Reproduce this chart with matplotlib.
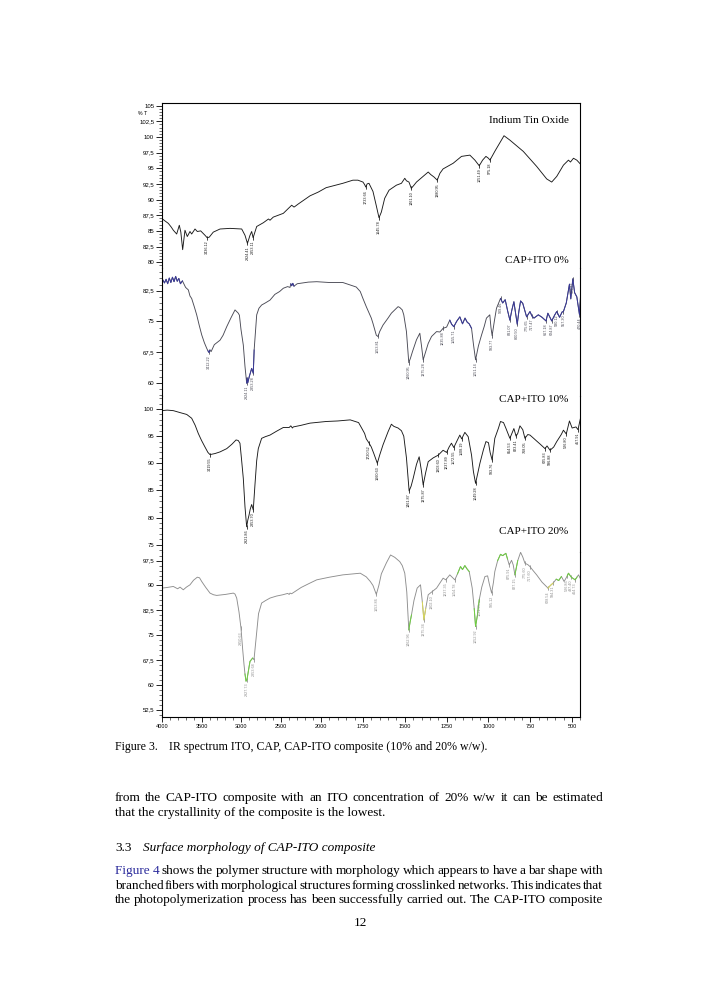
import numpy as np
import matplotlib
matplotlib.use("Agg")
import matplotlib.pyplot as plt
from matplotlib.ticker import FixedLocator, MultipleLocator, FuncFormatter

# ---- spectra (wavenumber cm-1, %T) ----
ITO_WN = [4000, 3960, 3917, 3880, 3854, 3812, 3779, 3760, 3737, 3708, 3679, 3645, 3624, 3582, 3553,
          3511, 3457, 3429, 3403, 3353, 3268, 3143, 2996, 2955, 2924, 2892, 2871, 2853, 2808, 2725,
          2660, 2641, 2600, 2474, 2369, 2340, 2328, 2286, 2139, 2035, 1970, 1870, 1810, 1780, 1750,
          1740, 1733, 1725, 1714, 1690, 1670, 1654, 1640, 1620, 1594, 1550, 1520, 1500, 1490, 1475,
          1461, 1445, 1430, 1360, 1345, 1325, 1306, 1290, 1271, 1211, 1161, 1111, 1081, 1055, 1035,
          1015, 1000, 991, 960, 907, 872, 792, 712, 652, 622, 592, 552, 522, 510, 492, 472, 448]
ITO_T = [87.0, 86.6, 86.2, 85.6, 85.1, 84.5, 85.9, 84.8, 82.0, 85.1, 84.1, 84.9, 84.5, 85.3, 84.9,
         85.0, 84.3, 83.9, 84.0, 84.8, 85.3, 85.4, 85.3, 84.3, 83.0, 84.3, 84.9, 83.9, 85.7, 86.3,
         86.9, 86.7, 87.2, 87.8, 89.1, 88.8, 88.9, 89.3, 90.6, 91.2, 91.9, 92.6, 93.1, 93.1, 92.8,
         92.4, 92.0, 92.5, 92.6, 91.3, 89.0, 87.1, 88.0, 90.2, 91.5, 92.3, 92.6, 93.4, 93.0, 92.8,
         91.8, 92.3, 92.8, 94.4, 94.0, 93.6, 93.1, 94.2, 94.9, 95.8, 96.9, 97.1, 96.3, 95.4, 96.3,
         96.9, 96.6, 96.3, 97.8, 100.2, 99.5, 97.7, 95.3, 93.3, 92.8, 93.7, 95.5, 96.3, 96.0, 96.6,
         96.3, 95.6]

CAP0_WN = [4000, 3985, 3965, 3945, 3925, 3905, 3885, 3865, 3845, 3825, 3805, 3785, 3765, 3740, 3700,
           3666, 3645, 3624, 3590, 3561, 3530, 3498, 3465, 3435, 3420, 3407, 3395, 3380, 3340, 3268,
           3230, 3184, 3130, 3080, 3060, 3039, 3025, 3005, 2976, 2955, 2934, 2928, 2920, 2901, 2871,
           2851, 2840, 2808, 2780, 2746, 2700, 2641, 2580, 2520, 2474, 2420, 2390, 2380, 2369, 2355,
           2340, 2300, 2265, 2160, 2055, 1950, 1870, 1826, 1790, 1766, 1750, 1730, 1700, 1690, 1670,
           1660, 1650, 1630, 1600, 1580, 1560, 1540, 1530, 1515, 1506, 1490, 1476, 1466, 1454, 1430,
           1410, 1400, 1390, 1375, 1360, 1340, 1310, 1290, 1271, 1250, 1231, 1220, 1207, 1190, 1171,
           1155, 1140, 1127, 1115, 1101, 1090, 1077, 1060, 1041, 1025, 1012, 992, 985, 978, 965,
           952, 928, 915, 900, 885, 872, 860, 848, 838, 828, 818, 808, 795, 772, 752,
           740, 728, 702, 680, 656, 645, 622, 605, 592, 575, 560, 552, 535, 516, 508,
           496, 485, 472, 456, 448]
CAP0_T = [85.5, 85.1, 84.4, 85.3, 84.2, 85.6, 84.5, 85.8, 84.7, 86.0, 84.8, 85.5, 84.2, 84.9, 83.3,
          82.7, 81.2, 80.6, 78.5, 76.6, 74.1, 71.7, 69.8, 68.4, 67.8, 67.4, 68.0, 67.6, 69.3, 70.4,
          71.6, 73.7, 75.9, 77.8, 77.4, 77.0, 76.5, 73.0, 69.2, 64.0, 59.9, 61.2, 60.0, 61.5, 63.5,
          62.3, 68.0, 76.6, 78.2, 79.0, 79.5, 80.2, 81.6, 82.3, 83.1, 83.5, 83.3, 84.2, 83.7, 84.3,
          83.6, 84.2, 84.3, 84.6, 84.7, 84.5, 84.5, 83.9, 83.4, 82.3, 80.6, 78.6, 75.8, 74.5, 71.6,
          71.3, 72.5, 74.1, 75.8, 77.0, 77.8, 78.6, 78.4, 77.8, 76.6, 72.5, 64.9, 66.0, 67.6, 70.5,
          72.1, 69.0, 65.6, 67.6, 69.6, 71.3, 72.5, 72.4, 73.3, 73.6, 75.3, 74.3, 73.7, 75.0, 76.1,
          74.4, 75.8, 74.8, 74.4, 73.3, 69.5, 65.6, 69.0, 71.7, 73.8, 75.8, 76.6, 73.5, 71.5, 75.0,
          78.2, 80.6, 79.5, 80.3, 77.5, 75.3, 77.8, 79.8, 77.0, 74.3, 77.5, 80.0, 79.4, 76.1, 77.4,
          76.3, 75.8, 76.6, 76.0, 75.1, 77.0, 75.1, 76.5, 77.4, 76.0, 77.3, 77.4, 79.5, 84.1, 80.5,
          85.4, 82.0, 81.0, 76.6, 82.5]

CAP10_WN = [4000, 3930, 3854, 3760, 3686, 3624, 3580, 3541, 3500, 3457, 3420, 3394, 3330, 3268, 3184,
            3120, 3067, 3040, 3018, 3000, 2976, 2955, 2934, 2920, 2905, 2890, 2871, 2851, 2830, 2808,
            2788, 2746, 2700, 2641, 2560, 2474, 2400, 2380, 2360, 2349, 2250, 2139, 1970, 1900, 1826,
            1776, 1756, 1740, 1730, 1715, 1700, 1685, 1664, 1650, 1630, 1600, 1580, 1565, 1540, 1520,
            1506, 1490, 1474, 1462, 1450, 1430, 1414, 1400, 1390, 1375, 1360, 1330, 1300, 1271, 1250,
            1235, 1221, 1207, 1190, 1171, 1160, 1141, 1121, 1101, 1090, 1077, 1065, 1051, 1030, 1015,
            1000, 990, 978, 962, 940, 928, 910, 895, 872, 860, 848, 835, 825, 812, 795,
            782, 765, 752, 730, 712, 690, 662, 650, 632, 610, 592, 565, 552, 535, 516,
            500, 477, 465, 448]
CAP10_T = [99.7, 99.8, 99.7, 99.3, 99.0, 98.3, 97.0, 95.5, 94.2, 93.0, 92.0, 91.6, 91.8, 92.1, 92.7,
           93.5, 94.3, 94.2, 93.7, 91.0, 87.2, 82.0, 78.3, 79.5, 80.4, 81.5, 82.4, 81.4, 86.0, 90.5,
           92.7, 94.6, 94.9, 95.2, 95.9, 96.6, 96.6, 96.9, 96.5, 96.7, 97.0, 97.4, 97.7, 97.8, 98.0,
           97.5, 96.4, 95.5, 94.5, 93.8, 93.0, 91.8, 90.0, 91.5, 93.4, 95.8, 97.2, 96.8, 96.5, 96.0,
           95.0, 91.0, 84.9, 85.8, 87.2, 89.8, 91.2, 88.5, 86.0, 88.3, 90.3, 91.0, 91.5, 92.4, 92.0,
           93.0, 93.7, 92.9, 94.0, 95.2, 94.5, 95.7, 94.9, 91.5, 88.5, 86.3, 88.0, 90.0, 92.5, 94.0,
           93.8, 92.0, 90.6, 94.6, 96.5, 97.7, 97.5, 96.4, 94.6, 95.5, 96.4, 95.0, 95.5, 96.9, 96.2,
           94.6, 95.3, 95.2, 94.6, 94.1, 93.5, 92.7, 93.2, 92.4, 93.0, 94.0, 95.3, 96.1, 95.4, 97.8,
           96.5, 96.7, 96.2, 98.6]

CAP20_WN = [4000, 3930, 3854, 3800, 3770, 3729, 3690, 3645, 3600, 3553, 3525, 3498, 3450, 3394, 3350,
            3310, 3200, 3101, 3080, 3059, 3030, 3005, 2985, 2967, 2955, 2942, 2930, 2913, 2900, 2892,
            2875, 2859, 2842, 2830, 2808, 2785, 2746, 2700, 2641, 2560, 2480, 2420, 2400, 2390, 2370,
            2250, 2150, 2055, 1950, 1870, 1766, 1730, 1706, 1690, 1670, 1655, 1640, 1610, 1585, 1560,
            1530, 1515, 1500, 1488, 1476, 1468, 1460, 1445, 1426, 1406, 1395, 1386, 1375, 1360, 1340,
            1310, 1271, 1255, 1231, 1201, 1185, 1167, 1155, 1141, 1128, 1115, 1097, 1085, 1077, 1066,
            1055, 1040, 1021, 1005, 995, 981, 970, 962, 945, 928, 915, 896, 886, 876, 862,
            852, 842, 825, 808, 795, 782, 765, 752, 735, 712, 680, 644, 630, 614, 595,
            580, 564, 548, 530, 522, 505, 482, 470, 462, 450]
CAP20_T = [89.2, 89.4, 89.7, 89.0, 89.5, 88.7, 89.5, 90.2, 91.6, 92.5, 92.3, 91.2, 89.5, 87.7, 87.2,
           87.0, 87.3, 87.7, 87.4, 86.2, 82.0, 77.1, 71.0, 66.1, 63.3, 61.1, 61.6, 64.1, 66.0, 67.1,
           67.6, 68.1, 67.6, 70.5, 76.1, 81.5, 84.7, 85.4, 86.2, 86.8, 87.2, 87.6, 87.3, 87.7, 87.5,
           89.4, 90.6, 91.7, 92.5, 93.2, 93.7, 92.6, 91.2, 90.0, 87.3, 90.0, 93.5, 96.8, 99.2, 98.5,
           97.2, 96.0, 93.7, 88.0, 76.6, 79.0, 81.1, 85.5, 89.2, 90.2, 85.0, 79.6, 83.0, 87.2, 88.0,
           89.2, 92.2, 91.7, 93.2, 91.7, 93.5, 95.7, 94.8, 96.0, 95.0, 94.2, 89.2, 83.0, 77.6, 81.0,
           85.7, 89.5, 92.7, 92.9, 90.5, 87.7, 91.0, 94.2, 97.5, 99.4, 99.0, 99.7, 98.0, 96.2, 97.6,
           96.2, 93.2, 97.5, 100.0, 98.6, 96.7, 96.3, 95.7, 94.6, 93.2, 91.0, 89.2, 90.0, 90.7, 91.9,
           91.5, 92.7, 91.2, 92.8, 93.7, 92.5, 91.7, 92.6, 93.2, 92.0]

# peak labels: position on the curve and printed value
ITO_PK = [3429, 2924, 2853, 1733, 1654, 1461, 1306, 1055, 991]
ITO_PK_TXT = ["3436.12", "2924.41", "2853.11", "1733.66", "1645.78", "1461.10", "1380.95",
              "1051.49", "975.18"]
CAP0_PK = [3407, 2934, 2851, 1660, 1476, 1390, 1271, 1207, 1077, 978, 928, 872, 828, 772,
           740, 656, 622, 592, 552, 496, 456]
CAP0_PK_TXT = ["3412.22", "2924.11", "2853.28", "1653.81", "1460.95", "1375.28", "1235.88",
               "1155.71", "1051.14", "993.77", "909.46", "831.07", "800.50", "775.65", "717.47",
               "667.18", "624.87", "580.12", "557.30", "509.77", "470.44"]
CAP10_PK = [3394, 2934, 2851, 1715, 1664, 1474, 1390, 1300, 1250, 1207, 1160, 1077, 978, 872,
            835, 782, 662, 632, 535, 465]
CAP10_PK_TXT = ["3419.55", "2921.86", "2853.70", "1720.52", "1660.63", "1461.87", "1375.87",
                "1303.60", "1237.89", "1172.55", "1108.19", "1049.28", "993.76", "854.53",
                "823.41", "768.05", "625.83", "596.88", "526.80", "457.91"]
CAP20_PK = [3005, 2930, 2842, 1670, 1476, 1386, 1340, 1255, 1201, 1077, 1055, 981, 876, 842,
            782, 752, 644, 614, 530, 505, 482]
CAP20_PK_TXT = ["2950.63", "2927.73", "2853.68", "1653.86", "1462.96", "1375.34", "1302.10",
                "1237.35", "1154.78", "1052.92", "1021.95", "995.12", "875.91", "827.15",
                "775.60", "717.60", "628.54", "594.31", "526.86", "497.40", "464.73"]

# coloured stretches of the traces (wavenumber ranges)
CAP0_BLUE = [(4000, 3730), (3425, 3385), (2940, 2840), (2385, 2335), (1240, 1100), (935, 448)]
CAP20_GREEN = [(2960, 2850), (1482, 1450), (1190, 1110), (1085, 1050), (945, 885), (842, 825),
               (600, 560), (540, 470)]
CAP20_YELLOW = [(1495, 1482), (1395, 1375), (660, 612)]

TITLES = ["Indium Tin Oxide", "CAP+ITO 0%", "CAP+ITO 10%", "CAP+ITO 20%"]
X_MAJOR = [4000, 3500, 3000, 2500, 2000, 1750, 1500, 1250, 1000, 750, 500]

W, H = 727, 1000
fig = plt.figure(figsize=(W / 100, H / 100), dpi=100)
fig.patch.set_facecolor("white")


def fwd(x):
    x = np.asarray(x, dtype=float)
    return np.where(x >= 2000, x, 2000 - (2000 - x) * 2.1)


def inv(u):
    u = np.asarray(u, dtype=float)
    return np.where(u >= 2000, u, 2000 - (2000 - u) / 2.1)


def px_axes(top, bottom, sharex=None):
    return fig.add_axes([161.7 / W, 1 - bottom / H, (580.5 - 161.7) / W, (bottom - top) / H],
                        sharex=sharex)


ax1 = px_axes(103.3, 268)
ax2 = px_axes(268, 396, ax1)
ax3 = px_axes(396, 552, ax1)
ax4 = px_axes(552, 716.7, ax1)
axes = [ax1, ax2, ax3, ax4]

ax1.set_xscale("function", functions=(fwd, inv))
ax1.set_xlim(4000, 450)

ylims = [(79.07, 105.38), (56.75, 88.05), (73.65, 102.4), (50.4, 100.1)]
yticks = [np.arange(80, 105.1, 2.5), [60, 67.5, 75, 82.5], np.arange(75, 100.1, 5),
          np.arange(52.5, 97.6, 7.5)]
yminor = [0.5, 1.5, 1.0, 1.5]
comma = FuncFormatter(lambda v, p: f"{v:g}".replace(".", ","))

for ax, yl, yt, ym in zip(axes, ylims, yticks, yminor):
    ax.set_ylim(*yl)
    ax.yaxis.set_major_locator(FixedLocator(yt))
    ax.yaxis.set_minor_locator(MultipleLocator(ym))
    ax.yaxis.set_major_formatter(comma)
    ax.tick_params(axis="y", which="major", direction="out", length=4, width=0.6, pad=1.5,
                   labelsize=4.3)
    ax.tick_params(axis="y", which="minor", direction="out", length=2, width=0.4)
    for lab in ax.get_yticklabels():
        lab.set_fontfamily("Liberation Sans")
    for s in ax.spines.values():
        s.set_linewidth(0.8)
    ax.spines["top"].set_visible(ax is ax1)
    ax.spines["bottom"].set_visible(ax is ax4)
    ax.patch.set_alpha(0)
    if ax is not ax4:
        ax.tick_params(axis="x", which="both", bottom=False, labelbottom=False)

ax4.xaxis.set_major_locator(FixedLocator(X_MAJOR))
minor_x = [v for v in list(range(2100, 4000, 100)) + list(range(450, 2000, 50)) if v not in X_MAJOR]
ax4.xaxis.set_minor_locator(FixedLocator(minor_x))
ax4.xaxis.set_major_formatter(FuncFormatter(lambda v, p: f"{int(round(v))}"))
ax4.tick_params(axis="x", which="major", direction="out", length=3.5, width=0.6, pad=2, labelsize=4)
ax4.tick_params(axis="x", which="minor", direction="out", length=2, width=0.4)
for lab in ax4.get_xticklabels():
    lab.set_fontfamily("Liberation Sans")


def draw(ax, wn, t, color, pk, pk_txt, lw=0.65):
    wn = np.array(wn)
    t = np.array(t)
    ax.plot(wn, t, color=color, lw=lw, solid_joinstyle="round")
    for p, txt in zip(pk, pk_txt):
        i = np.argmin(np.abs(wn - p))
        ax.plot([wn[i], wn[i]], [t[i], t[i]], marker="|", ms=2.5, mew=0.4, color=color)
        ax.annotate(txt, xy=(wn[i], t[i]), xytext=(0, -2), textcoords="offset points",
                    rotation=90, ha="center", va="top", fontsize=2.7, color=color,
                    family="Liberation Sans")
    return wn, t


def overlay(ax, wn, t, ranges, color, lw=0.7):
    for hi, lo in ranges:
        m = (wn <= hi) & (wn >= lo)
        ax.plot(wn[m], t[m], color=color, lw=lw)


draw(ax1, ITO_WN, ITO_T, "#1a1a1a", ITO_PK, ITO_PK_TXT)
w2, t2 = draw(ax2, CAP0_WN, CAP0_T, "#4a4a55", CAP0_PK, CAP0_PK_TXT)
overlay(ax2, w2, t2, CAP0_BLUE, "#3a3a9a")
draw(ax3, CAP10_WN, CAP10_T, "#1a1a1a", CAP10_PK, CAP10_PK_TXT)
w4, t4 = draw(ax4, CAP20_WN, CAP20_T, "#8e8e8e", CAP20_PK, CAP20_PK_TXT)
overlay(ax4, w4, t4, CAP20_GREEN, "#6fd040")
overlay(ax4, w4, t4, CAP20_YELLOW, "#d9d85a")

# spectrum names
for title, y in zip(TITLES, [120.7, 260.7, 400, 531]):
    fig.text(568.5 / W, 1 - y / H, title, ha="right", va="center", fontsize=8,
             family="Liberation Serif")
fig.text(143 / W, 1 - 113.3 / H, "% T", ha="center", va="center", fontsize=3.8,
         family="Liberation Sans")

# ---- page text ----
serif = dict(family="Liberation Serif", fontsize=9.5, va="center")
renderer = fig.canvas.get_renderer()


def justify(words, y, x0=115, x1=603, colors=None):
    colors = colors or ["black"] * len(words)
    texts = [fig.text(0, 1 - y / H, w, color=c, **serif) for w, c in zip(words, colors)]
    widths = [t.get_window_extent(renderer).width for t in texts]
    gap = (x1 - x0 - sum(widths)) / (len(words) - 1)
    x = x0
    for t, wd in zip(texts, widths):
        t.set_x(x / W)
        x += wd + gap


cap = dict(serif, fontsize=8.6)
fig.text(115 / W, 1 - 747.3 / H, "Figure 3.", **cap)
fig.text(169 / W, 1 - 747.3 / H, "IR spectrum ITO, CAP, CAP-ITO composite (10% and 20% w/w).",
         **cap)

justify("from the CAP-ITO composite with an ITO concentration of 20% w/w it can be estimated".split(),
        797.7)
fig.text(115 / W, 1 - 812.7 / H, "that the crystallinity of the composite is the lowest.", **serif)

fig.text(115 / W, 1 - 848.3 / H, "3.3", **serif)
fig.text(143.3 / W, 1 - 848.3 / H, "Surface morphology of CAP-ITO composite", style="italic",
         **serif)

line1 = "Figure 4 shows the polymer structure with morphology which appears to have a bar shape with"
words1 = line1.split()
words1 = [words1[0] + " " + words1[1]] + words1[2:]
justify(words1, 871, colors=["#2b2b9c"] + ["black"] * (len(words1) - 1))
justify("branched fibers with morphological structures forming crosslinked networks. This indicates that".split(),
        885.7)
justify("the photopolymerization process has been successfully carried out. The CAP-ITO composite".split(),
        900)

fig.text(360 / W, 1 - 923.3 / H, "12", ha="center", **serif)

fig.savefig("out.png", dpi=100, facecolor="white")
